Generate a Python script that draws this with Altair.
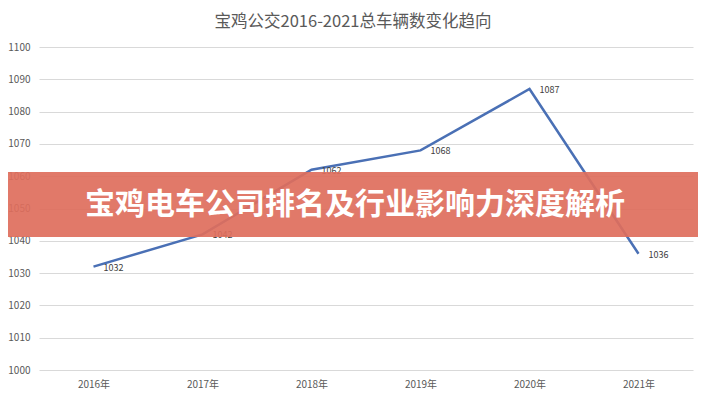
import altair as alt
import pandas as pd

years = ["2016年", "2017年", "2018年", "2019年", "2020年", "2021年"]
vehicles = [1032, 1042, 1062, 1068, 1087, 1036]
y_ticks = [1000, 1010, 1020, 1030, 1040, 1050, 1060, 1070, 1080, 1090, 1100]
title_text = "宝鸡公交2016-2021总车辆数变化趋向"
banner_text = "宝鸡电车公司排名及行业影响力深度解析"

df = pd.DataFrame({"year": years, "value": vehicles})

W, H = 654, 323
PL, PT, PR, PB = 31, 39, 5, 22

x = alt.X("year:N", sort=years,
          scale=alt.Scale(type="point", padding=0.5),
          axis=alt.Axis(title=None, labelAngle=0, labelFontSize=10, labelColor="#595959",
                        labelFont="Noto Sans CJK SC", ticks=False, domain=False,
                        labelPadding=9, grid=False))
y = alt.Y("value:Q", scale=alt.Scale(domain=[1000, 1100], nice=False, zero=False),
          axis=alt.Axis(title=None, values=y_ticks, tickCount=11, format="d", labelOverlap=False,
                        labelFontSize=10, labelColor="#595959",
                        labelFont="Noto Sans CJK SC", ticks=False, domain=False,
                        labelPadding=9, gridColor="#d9d9d9", gridWidth=1))

base = alt.Chart(df).encode(x=x, y=y)

line = base.mark_line(color="#4A70B5", strokeWidth=2.5)
labels = base.mark_text(align="left", baseline="middle", dx=10, dy=1, fontSize=9,
                        color="#404040", font="Noto Sans CJK SC").encode(text="value:Q")

banner = alt.Chart(pd.DataFrame({"t": [banner_text]})).mark_rect(
    color="#DE6E5C", opacity=0.92
).encode(x=alt.value(-PL - 8), x2=alt.value(W + PR + 8), y=alt.value(125), y2=alt.value(190))

banner_txt = alt.Chart(pd.DataFrame({"t": [banner_text]})).mark_text(
    fontSize=30, fontWeight="bold", color="white", font="Noto Sans CJK SC",
    align="center", baseline="middle"
).encode(x=alt.value(316), y=alt.value(158), text="t:N")

chart = alt.layer(line, labels, banner, banner_txt).properties(
    width=W, height=H,
    title=alt.TitleParams(title_text, fontSize=16.5, color="#595959", font="Noto Sans CJK SC",
                          fontWeight="normal", anchor="middle", offset=12, dx=-13),
    autosize=alt.AutoSizeParams(type="none"),
    padding={"left": PL, "top": PT, "right": PR, "bottom": PB},
    background="white",
).configure_view(stroke=None).configure_axis(labelOverlap=False)

chart.save("out.html", embed_options={"renderer": "svg", "actions": False})
